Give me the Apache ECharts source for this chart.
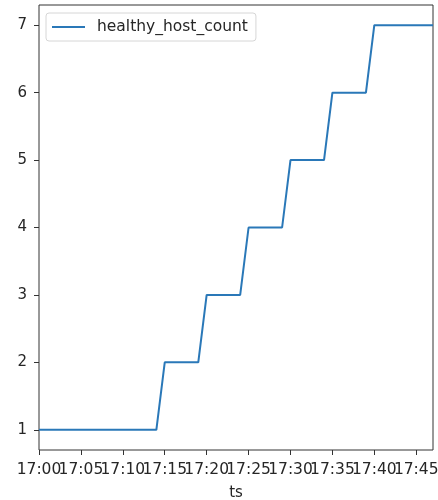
<!DOCTYPE html>
<html>
<head>
<meta charset="utf-8">
<script src="https://cdn.jsdelivr.net/npm/echarts@6/dist/echarts.min.js"></script>
<style>
  html, body { margin: 0; padding: 0; background: #ffffff; }
  #chart { width: 438px; height: 500px; }
</style>
</head>
<body>
<div id="chart"></div>
<script>
// Healthy host count sampled over the deployment window
const seriesName = 'healthy_host_count';
const timestamps = ['17:00', '17:14', '17:15', '17:19', '17:20', '17:24', '17:25',
                    '17:29', '17:30', '17:34', '17:35', '17:39', '17:40', '17:47'];
const healthyHostCount = [1, 1, 2, 2, 3, 3, 4, 4, 5, 5, 6, 6, 7, 7];
const xTickLabels = ['17:00', '17:05', '17:10', '17:15', '17:20', '17:25', '17:30', '17:35', '17:40', '17:45'];
const yTickValues = [1, 2, 3, 4, 5, 6, 7];

// minutes since 17:00 for a clock string
function toMinutes(hhmm) {
  const [h, m] = hhmm.split(':').map(Number);
  return (h - 17) * 60 + m;
}
function toClock(minutes) {
  const h = 17 + Math.floor(minutes / 60);
  const m = Math.round(minutes % 60);
  return h + ':' + String(m).padStart(2, '0');
}

const points = timestamps.map((t, i) => [toMinutes(t), healthyHostCount[i]]);
const xTickValues = xTickLabels.map(toMinutes);
// the tick labels are wide enough to touch each other, so they are split over
// two stacked x axes (alternate ticks) to keep every label visible
const xEvenTicks = xTickValues.filter((_, i) => i % 2 === 0);
const xOddTicks = xTickValues.filter((_, i) => i % 2 === 1);

const font = 'DejaVu Sans';
const ink = '#262626';
const lineColor = '#2a78b8';
const xMin = toMinutes(timestamps[0]);
const xMax = toMinutes(timestamps[timestamps.length - 1]);

function xAxisFor(labelValues, primary) {
  return {
    type: 'value',
    position: 'bottom',
    offset: 0,
    min: xMin,
    max: xMax,
    name: primary ? 'ts' : '',
    nameLocation: 'middle',
    nameGap: 36,
    nameTextStyle: { fontFamily: font, fontSize: 15, color: ink },
    axisLine: { show: false },
    axisTick: {
      show: primary, length: 5, lineStyle: { color: '#333333' },
      customValues: xTickValues
    },
    axisLabel: {
      fontFamily: font, fontSize: 15.5, color: ink, margin: 12,
      showMinLabel: true, showMaxLabel: true, hideOverlap: false,
      customValues: labelValues,
      formatter: v => toClock(v)
    },
    splitLine: { show: false }
  };
}

const chart = echarts.init(document.getElementById('chart'), null, { renderer: 'canvas' });
chart.setOption({
  backgroundColor: '#ffffff',
  animation: false,
  grid: {
    left: 39, right: 5, top: 5, bottom: 50,
    outerBoundsMode: 'none',
    show: true, borderColor: '#333333', borderWidth: 1, backgroundColor: 'transparent'
  },
  legend: {
    left: 46, top: 13,
    padding: [6, 8, 6, 6],
    backgroundColor: '#ffffff',
    borderColor: '#d6d6d6', borderWidth: 1, borderRadius: 3,
    itemWidth: 33, itemHeight: 2,
    textStyle: { fontFamily: font, fontSize: 15.5, color: ink, padding: [0, 0, 0, 7] },
    data: [{ name: seriesName, icon: 'rect' }]
  },
  xAxis: [xAxisFor(xEvenTicks, true), xAxisFor(xOddTicks, false)],
  yAxis: {
    type: 'value',
    min: 0.7,
    max: 7.3,
    axisLine: { show: false },
    axisTick: { show: true, length: 5, lineStyle: { color: '#333333' }, customValues: yTickValues },
    axisLabel: {
      fontFamily: font, fontSize: 15, color: ink, margin: 12,
      customValues: yTickValues,
      formatter: v => String(v)
    },
    splitLine: { show: false }
  },
  series: [{
    name: seriesName,
    type: 'line',
    xAxisIndex: 0,
    data: points,
    symbol: 'none',
    color: lineColor,
    lineStyle: { width: 2, color: lineColor }
  }]
});
</script>
</body>
</html>
